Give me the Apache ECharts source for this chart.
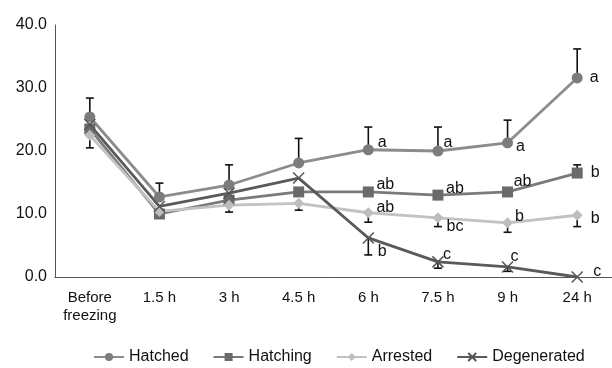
<!DOCTYPE html>
<html>
<head>
<meta charset="utf-8">
<script src="https://cdn.jsdelivr.net/npm/echarts@6/dist/echarts.min.js"></script>
<style>
html, body { margin: 0; background: #fff; }
#chart { width: 612px; height: 368px; }
</style>
</head>
<body>
<div id="chart"></div>
<script>
var times = ['Before\nfreezing', '1.5 h', '3 h', '4.5 h', '6 h', '7.5 h', '9 h', '24 h'];
var yTicks = [0, 10, 20, 30, 40];

var hatched     = [25.4, 12.7, 14.6, 18.1, 20.2, 20.0, 21.3, 31.6];
var hatching    = [23.5, 10.0, 12.2, 13.5, 13.5, 13.0, 13.5, 16.5];
var arrested    = [22.5, 10.4, 11.4, 11.7, 10.2, 9.4, 8.6, 9.8];
var degenerated = [24.2, 11.2, 13.3, 15.7, 6.2, 2.4, 1.6, 0.0];

// where each error bar ends (null = no bar drawn)
var hatchedErr     = [28.4, 14.9, 17.8, 22.0, 23.8, 23.8, 24.9, 36.2];
var hatchingErr    = [null, null, null, null, null, null, null, 17.8];
var arrestedErr    = [20.5, null, 10.3, 10.6, 8.7, 8.0, 7.1, 8.0];
var degeneratedErr = [null, null, null, null, 3.5, 1.4, 0.9, null];

// significance letters
var hatchedSig     = ['', '', '', '', 'a', 'a', 'a', 'a'];
var hatchingSig    = ['', '', '', '', 'ab', 'ab', 'ab', 'b'];
var arrestedSig    = ['', '', '', '', 'ab', 'bc', 'b', 'b'];
var degeneratedSig = ['', '', '', '', 'b', 'c', 'c', 'c'];

// label offsets from the marker (layout only)
var hatchedOff     = [null, null, null, null, [14, -7], [10, -8], [13, 4], [17, 0]];
var hatchingOff    = [null, null, null, null, [17, -7], [17, -7], [15, -10], [18, 0]];
var arrestedOff    = [null, null, null, null, [17, -5], [17, 9], [12, -6], [18, 3]];
var degeneratedOff = [null, null, null, null, [14, 14], [9, -7], [7, -10], [20, -5]];

var chart = echarts.init(document.getElementById('chart'));
var font = '"Liberation Sans", Arial, sans-serif';

function points(values, sigs, offs) {
    return values.map(function (v, i) {
        if (!sigs[i]) return v;
        return {
            value: v,
            label: { show: true, formatter: sigs[i], position: 'inside', offset: offs[i] }
        };
    });
}

function errData(values, errs) {
    var out = [];
    errs.forEach(function (e, i) {
        if (e !== null) out.push([i, values[i], e]);
    });
    return out;
}

function errItem(params, api) {
    var p0 = api.coord([api.value(0), api.value(1)]);
    var p1 = api.coord([api.value(0), api.value(2)]);
    var w = 4;
    var st = { stroke: '#111', lineWidth: 1.6 };
    return {
        type: 'group',
        children: [
            { type: 'line', shape: { x1: p0[0], y1: p0[1], x2: p1[0], y2: p1[1] }, style: st },
            { type: 'line', shape: { x1: p1[0] - w, y1: p1[1], x2: p1[0] + w, y2: p1[1] }, style: st }
        ]
    };
}

function lineSeries(name, values, sigs, offs, symbol, size, color, lineColor, extra) {
    var s = {
        name: name,
        type: 'line',
        data: points(values, sigs, offs),
        symbol: symbol,
        symbolSize: size,
        z: 3,
        itemStyle: { color: color },
        lineStyle: { color: lineColor, width: 2.8 },
        label: { color: '#111', fontFamily: font, fontSize: 16 }
    };
    if (extra) Object.assign(s.itemStyle, extra);
    return s;
}

function errSeries(values, errs) {
    return {
        type: 'custom',
        renderItem: errItem,
        data: errData(values, errs),
        z: 2,
        silent: true
    };
}

chart.setOption({
    animation: false,
    grid: { left: 55, top: 25, width: 566, height: 252 },
    legend: {
        top: 344,
        left: 88,
        itemWidth: 30,
        itemHeight: 10,
        itemGap: 24,
        textStyle: { fontFamily: font, fontSize: 16, color: '#111' },
        data: ['Hatched', 'Hatching', 'Arrested', 'Degenerated']
    },
    xAxis: {
        type: 'category',
        data: times,
        axisLine: { lineStyle: { color: '#555', width: 1 } },
        axisTick: { show: false },
        axisLabel: {
            color: '#111', fontFamily: font, fontSize: 15, margin: 12, lineHeight: 18,
            interval: 0, hideOverlap: false
        }
    },
    yAxis: {
        type: 'value',
        min: yTicks[0],
        max: yTicks[yTicks.length - 1],
        interval: 10,
        axisLine: { show: true, lineStyle: { color: '#555', width: 1 } },
        axisTick: { show: false },
        splitLine: { show: false },
        axisLabel: {
            color: '#111', fontFamily: font, fontSize: 16, margin: 8,
            formatter: function (v) { return v.toFixed(1); }
        }
    },
    series: [
        lineSeries('Hatched', hatched, hatchedSig, hatchedOff, 'circle', 11, '#7c7c7c', '#8c8c8c'),
        lineSeries('Hatching', hatching, hatchingSig, hatchingOff, 'rect', 11, '#6a6a6a', '#7a7a7a'),
        lineSeries('Arrested', arrested, arrestedSig, arrestedOff, 'diamond', 11, '#bdbdbd', '#c2c2c2'),
        lineSeries('Degenerated', degenerated, degeneratedSig, degeneratedOff,
            'path://M0,0L10,10M10,0L0,10', 11, '#555', '#5a5a5a',
            { borderColor: '#555', borderWidth: 1.5 }),
        errSeries(hatched, hatchedErr),
        errSeries(hatching, hatchingErr),
        errSeries(arrested, arrestedErr),
        errSeries(degenerated, degeneratedErr)
    ]
});
</script>
</body>
</html>
